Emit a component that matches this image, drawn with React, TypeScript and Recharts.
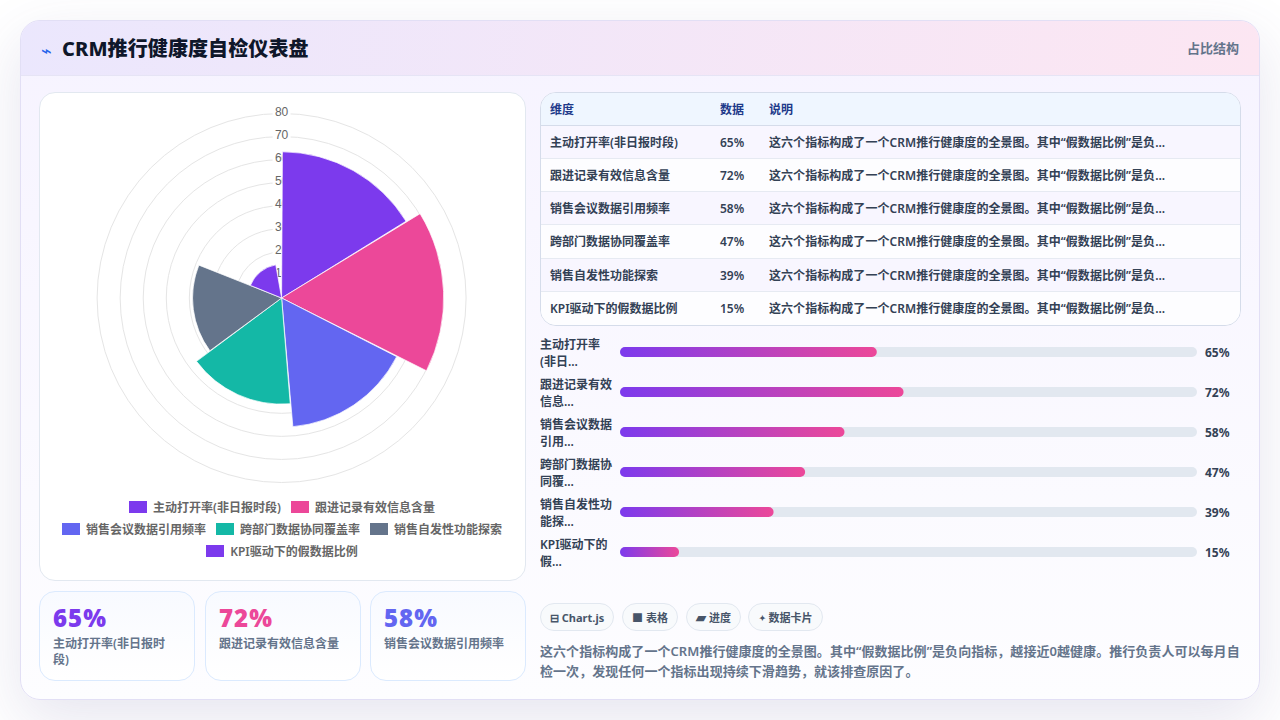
import React from "react";
import {
  RadialBarChart,
  RadialBar,
  PolarGrid,
  PolarAngleAxis,
  PolarRadiusAxis,
  BarChart,
  Bar,
  XAxis,
  YAxis,
  Cell,
  LabelList,
} from "recharts";

const names = [
  "主动打开率(非日报时段)",
  "跟进记录有效信息含量",
  "销售会议数据引用频率",
  "跨部门数据协同覆盖率",
  "销售自发性功能探索",
  "KPI驱动下的假数据比例",
];
const values = [65, 72, 58, 47, 39, 15];
const polarValues = [63.4, 70.3, 56, 46, 38.6, 14.6];
const barValues = [65.2, 72, 57, 47, 39, 15];
const colors = ["#7c3aed", "#ec4899", "#6366f1", "#14b8a6", "#64748b", "#7c3aed"];
const radiusTicks = [0, 10, 20, 30, 40, 50, 60, 70, 80];
const legendRows = [[0, 1], [2, 3, 4], [5]];
const barLabels = [
  ["主动打开率", "(非日..."],
  ["跟进记录有效", "信息..."],
  ["销售会议数据", "引用..."],
  ["跨部门数据协", "同覆..."],
  ["销售自发性功", "能探..."],
  ["KPI驱动下的", "假..."],
];
const chipIcons = ["⊟", "■", "▰", "✦"];
const chipTexts = ["Chart.js", "表格", "进度", "数据卡片"];
const chipIconSizes = [11, 11, 13, 8];
const noteShort = "这六个指标构成了一个CRM推行健康度的全景图。其中“假数据比例”是负...";
const noteLines = [
  "这六个指标构成了一个CRM推行健康度的全景图。其中“假数据比例”是负向指标，越接近0越健康。推行负责人可以每月自",
  "检一次，发现任何一个指标出现持续下滑趋势，就该排查原因了。",
];

const polarData = names.map((name, i) => ({ name, value: polarValues[i] }));
const barData = names.map((name, i) => ({ name, value: barValues[i], label: values[i] + "%" }));

const font = '"Noto Sans", "Noto Sans CJK SC", sans-serif';
const polarProps = {
  width: 486,
  height: 400,
  data: polarData,
  layout: "centric" as const,
  cx: 242.6,
  cy: 205,
  innerRadius: 0,
  outerRadius: 184.5,
  barCategoryGap: 0,
  margin: { top: 0, right: 0, bottom: 0, left: 0 },
};

function RadiusTick({ x, y, payload }: any) {
  if (payload.value === 0) return null;
  return (
    <g>
      <rect x={x - 9} y={y - 8} width={18} height={14} fill="#fff" />
      <text x={x} y={y + 2.5} textAnchor="middle" fontSize={12} fill="#666" fontFamily="Liberation Sans">
        {payload.value}
      </text>
    </g>
  );
}

function BarLabelTick({ y, index }: any) {
  const lines = barLabels[index] || [];
  return (
    <text fontSize={12} fontWeight={600} fill="#334155" fontFamily={font}>
      <tspan x={0} y={y - 3}>{lines[0]}</tspan>
      <tspan x={0} y={y + 14}>{lines[1]}</tspan>
    </text>
  );
}

export default function App() {
  return (
    <div style={{ position: "absolute", left: 0, top: 0, width: 1280, height: 720, background: "#fff", overflow: "hidden", fontFamily: font }}>
      <div
        style={{
          position: "absolute", left: 20, top: 20, width: 1240, height: 680, boxSizing: "border-box",
          borderRadius: 20, border: "1px solid #e2dff5", overflow: "hidden",
          background: "linear-gradient(180deg, #f6f3ff 0%, #fdfdff 100%)",
          boxShadow: "0 20px 60px rgba(80,70,140,0.14)",
        }}
      >
        <div style={{ height: 55, boxSizing: "border-box", borderBottom: "1px solid #e6e4f5", background: "linear-gradient(100deg, #ebe7fd 0%, #fce6f2 100%)" }} />
      </div>
      <div style={{ position: "absolute", left: 41, top: 40, fontSize: 18, color: "#2563eb", lineHeight: "20px" }}>⌁</div>
      <div style={{ position: "absolute", left: 62, top: 35, fontSize: 20, fontWeight: 800, color: "#0f172a", lineHeight: "28px", letterSpacing: 0.1 }}>CRM推行健康度自检仪表盘</div>
      <div style={{ position: "absolute", right: 41, top: 39, fontSize: 13, fontWeight: 600, color: "#64748b", lineHeight: "18px" }}>占比结构</div>

      <div style={{ position: "absolute", left: 39, top: 92, width: 487, height: 489, boxSizing: "border-box", background: "#fff", border: "1px solid #e2e8f0", borderRadius: 16 }} />
      {/* rings and tick labels go in a chart of their own, the sectors sit on top of the labels */}
      <div style={{ position: "absolute", left: 39, top: 93 }}>
        <RadialBarChart {...polarProps} startAngle={90} endAngle={-270}>
          <PolarGrid gridType="circle" radialLines={false} stroke="#e5e5e5" />
          <PolarAngleAxis type="category" dataKey="name" tick={false} axisLine={false} />
          <PolarRadiusAxis type="number" domain={[0, 80]} ticks={radiusTicks as any} angle={90} axisLine={false} tickLine={false} tick={<RadiusTick />} />
          <RadialBar dataKey="value" isAnimationActive={false} fill="none" stroke="none" />
        </RadialBarChart>
      </div>
      <div style={{ position: "absolute", left: 39, top: 93 }}>
        <RadialBarChart {...polarProps} startAngle={31.67} endAngle={-318.33}>
          <PolarAngleAxis type="category" dataKey="name" tick={false} axisLine={false} />
          <PolarRadiusAxis type="number" domain={[0, 80]} axisLine={false} tickLine={false} tick={false} />
          <RadialBar dataKey="value" isAnimationActive={false} stroke="#fff" strokeWidth={0.7}>
            {polarData.map((d, i) => (
              <Cell key={d.name} fill={colors[i]} />
            ))}
          </RadialBar>
        </RadialBarChart>
      </div>

      {legendRows.map((row, r) => (
        <div key={r} style={{ position: "absolute", left: 39, width: 486, top: 496 + r * 22, height: 22, display: "flex", justifyContent: "center", alignItems: "center", gap: 10 }}>
          {row.map((i) => (
            <div key={i} style={{ display: "flex", alignItems: "center", gap: 6, fontSize: 12, fontWeight: 600, color: "#666" }}>
              <span style={{ width: 18, height: 12, background: colors[i] }} />
              {names[i]}
            </div>
          ))}
        </div>
      ))}

      {[0, 1, 2].map((i) => (
        <div
          key={i}
          style={{
            position: "absolute", left: [39, 205, 370][i], top: 591, width: 155.5, height: 90, boxSizing: "border-box",
            padding: "10px 13px", borderRadius: 16, border: "1px solid #dbeafe",
            background: "linear-gradient(180deg, #f8faff 0%, #ffffff 100%)",
          }}
        >
          <div style={{ fontSize: 24, fontWeight: 900, color: colors[i], lineHeight: "32px", letterSpacing: 1 }}>{values[i]}%</div>
          <div style={{ fontSize: 12, fontWeight: 600, color: "#64748b", lineHeight: "16px", marginTop: 2 }}>{names[i]}</div>
        </div>
      ))}

      <div style={{ position: "absolute", left: 540, top: 92, width: 701, height: 234, boxSizing: "border-box", border: "1px solid #d5dcea", borderRadius: 16, overflow: "hidden", background: "#fff", fontSize: 12, fontWeight: 600 }}>
        <div style={{ position: "relative", height: 33, background: "#eff6ff", borderBottom: "1px solid #d5dcea", color: "#1e3a8a", lineHeight: "33px", boxSizing: "border-box" }}>
          <span style={{ position: "absolute", left: 9 }}>维度</span>
          <span style={{ position: "absolute", left: 179 }}>数据</span>
          <span style={{ position: "absolute", left: 228 }}>说明</span>
        </div>
        {names.map((name, i) => (
          <div key={name} style={{ position: "relative", height: 33.17, boxSizing: "border-box", lineHeight: "33px", color: "#334155", background: i % 2 === 0 ? "#f8f6ff" : "#fdfdff", borderBottom: i < 5 ? "1px solid #e6eaf2" : "none" }}>
            <span style={{ position: "absolute", left: 9 }}>{name}</span>
            <span style={{ position: "absolute", left: 179 }}>{values[i]}%</span>
            <span style={{ position: "absolute", left: 228, letterSpacing: 0.05 }}>{noteShort}</span>
          </div>
        ))}
      </div>

      <div style={{ position: "absolute", left: 540, top: 332 }}>
        <BarChart width={700} height={240} data={barData} layout="vertical" margin={{ top: 0, right: 43, bottom: 0, left: 0 }}>
          <defs>
            <linearGradient id="barFill" x1="0" y1="0" x2="1" y2="0">
              <stop offset="0%" stopColor="#7c3aed" />
              <stop offset="100%" stopColor="#ec4899" />
            </linearGradient>
          </defs>
          <XAxis type="number" domain={[0, 146.5]} hide />
          <YAxis type="category" dataKey="name" width={80} axisLine={false} tickLine={false} tick={<BarLabelTick />} interval={0} />
          <Bar dataKey="value" barSize={10} radius={5} fill="url(#barFill)" background={{ fill: "#e2e8f0", radius: 5 } as any} isAnimationActive={false}>
            <LabelList
              dataKey="label"
              content={(p: any) => (
                <text x={665} y={p.y + 10} fontSize={12} fontWeight={700} fill="#334155" fontFamily={font}>
                  {p.value}
                </text>
              )}
            />
          </Bar>
        </BarChart>
      </div>

      {chipTexts.map((c, i) => (
        <div
          key={c}
          style={{
            position: "absolute", left: [540, 622, 686, 748][i], top: 603, width: [74, 56, 55, 75][i], height: 28, boxSizing: "border-box",
            border: "1px solid #e2e8f0", borderRadius: 14, background: "#f8fafc", fontSize: 11, fontWeight: 700, color: "#475569",
            display: "flex", alignItems: "center", justifyContent: "center", gap: 3, whiteSpace: "nowrap",
          }}
        >
          <span style={{ fontSize: chipIconSizes[i] }}>{chipIcons[i]}</span>
          {c}
        </div>
      ))}
      {noteLines.map((l, i) => (
        <div key={i} style={{ position: "absolute", left: 540, top: 641 + i * 20, fontSize: 13, fontWeight: 600, color: "#64748b", lineHeight: "20px", whiteSpace: "nowrap", letterSpacing: 0.05 }}>
          {l}
        </div>
      ))}
    </div>
  );
}
